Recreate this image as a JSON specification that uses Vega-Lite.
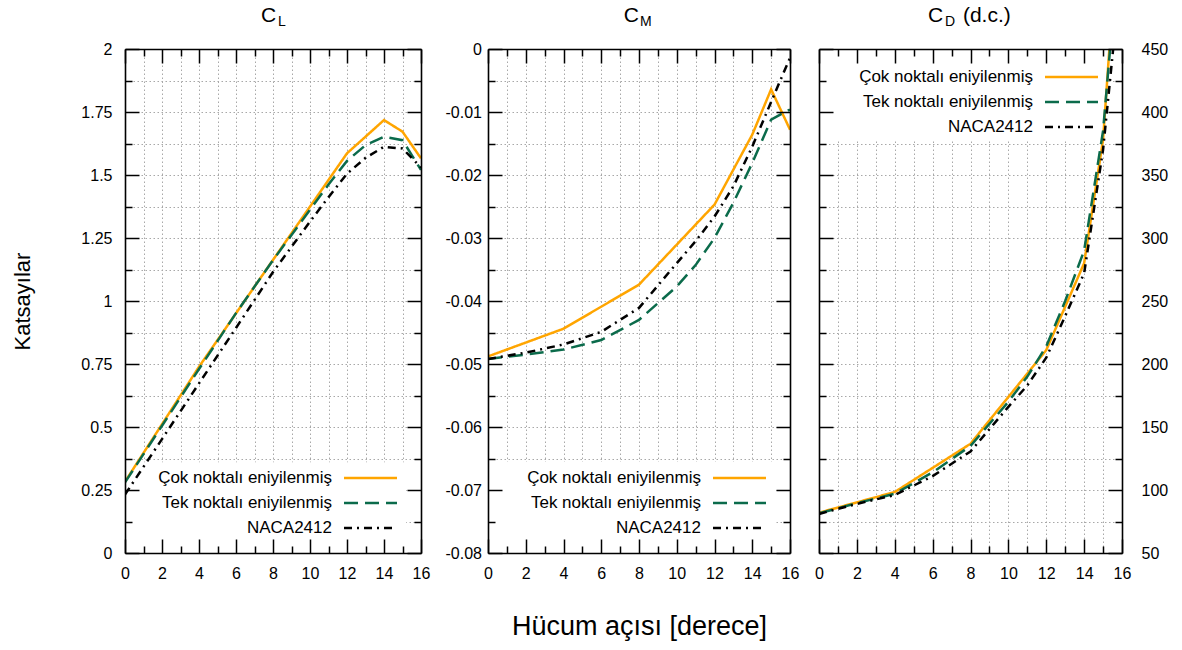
{
  "$schema": "https://vega.github.io/schema/vega-lite/v6.json",
  "background": "white",
  "padding": {"left": 11, "top": 4, "right": 5, "bottom": 5},
  "datasets": {
    "coef": [
      {"panel": "CL", "series": "Çok noktalı eniyilenmiş", "angle": 0, "value": 0.283},
      {"panel": "CL", "series": "Çok noktalı eniyilenmiş", "angle": 4, "value": 0.739},
      {"panel": "CL", "series": "Çok noktalı eniyilenmiş", "angle": 8, "value": 1.163},
      {"panel": "CL", "series": "Çok noktalı eniyilenmiş", "angle": 12, "value": 1.586},
      {"panel": "CL", "series": "Çok noktalı eniyilenmiş", "angle": 14, "value": 1.718},
      {"panel": "CL", "series": "Çok noktalı eniyilenmiş", "angle": 15, "value": 1.672},
      {"panel": "CL", "series": "Çok noktalı eniyilenmiş", "angle": 16, "value": 1.566},
      {"panel": "CL", "series": "Tek noktalı eniyilenmiş", "angle": 0, "value": 0.28},
      {"panel": "CL", "series": "Tek noktalı eniyilenmiş", "angle": 2, "value": 0.505},
      {"panel": "CL", "series": "Tek noktalı eniyilenmiş", "angle": 4, "value": 0.73},
      {"panel": "CL", "series": "Tek noktalı eniyilenmiş", "angle": 6, "value": 0.952},
      {"panel": "CL", "series": "Tek noktalı eniyilenmiş", "angle": 8, "value": 1.162},
      {"panel": "CL", "series": "Tek noktalı eniyilenmiş", "angle": 10, "value": 1.362},
      {"panel": "CL", "series": "Tek noktalı eniyilenmiş", "angle": 11, "value": 1.462},
      {"panel": "CL", "series": "Tek noktalı eniyilenmiş", "angle": 12, "value": 1.556},
      {"panel": "CL", "series": "Tek noktalı eniyilenmiş", "angle": 13, "value": 1.618},
      {"panel": "CL", "series": "Tek noktalı eniyilenmiş", "angle": 14, "value": 1.652},
      {"panel": "CL", "series": "Tek noktalı eniyilenmiş", "angle": 15, "value": 1.638},
      {"panel": "CL", "series": "Tek noktalı eniyilenmiş", "angle": 16, "value": 1.52},
      {"panel": "CL", "series": "NACA2412", "angle": 0, "value": 0.232},
      {"panel": "CL", "series": "NACA2412", "angle": 2, "value": 0.452},
      {"panel": "CL", "series": "NACA2412", "angle": 4, "value": 0.673},
      {"panel": "CL", "series": "NACA2412", "angle": 6, "value": 0.893},
      {"panel": "CL", "series": "NACA2412", "angle": 8, "value": 1.115},
      {"panel": "CL", "series": "NACA2412", "angle": 10, "value": 1.315},
      {"panel": "CL", "series": "NACA2412", "angle": 11, "value": 1.412},
      {"panel": "CL", "series": "NACA2412", "angle": 12, "value": 1.505},
      {"panel": "CL", "series": "NACA2412", "angle": 13, "value": 1.568},
      {"panel": "CL", "series": "NACA2412", "angle": 14, "value": 1.612},
      {"panel": "CL", "series": "NACA2412", "angle": 15, "value": 1.605},
      {"panel": "CL", "series": "NACA2412", "angle": 16, "value": 1.53},
      {"panel": "CM", "series": "Çok noktalı eniyilenmiş", "angle": 0, "value": -0.0488},
      {"panel": "CM", "series": "Çok noktalı eniyilenmiş", "angle": 4, "value": -0.0444},
      {"panel": "CM", "series": "Çok noktalı eniyilenmiş", "angle": 8, "value": -0.0374},
      {"panel": "CM", "series": "Çok noktalı eniyilenmiş", "angle": 12, "value": -0.0247},
      {"panel": "CM", "series": "Çok noktalı eniyilenmiş", "angle": 14, "value": -0.0136},
      {"panel": "CM", "series": "Çok noktalı eniyilenmiş", "angle": 15, "value": -0.0064},
      {"panel": "CM", "series": "Çok noktalı eniyilenmiş", "angle": 16, "value": -0.0128},
      {"panel": "CM", "series": "Tek noktalı eniyilenmiş", "angle": 0, "value": -0.0492},
      {"panel": "CM", "series": "Tek noktalı eniyilenmiş", "angle": 2, "value": -0.0485},
      {"panel": "CM", "series": "Tek noktalı eniyilenmiş", "angle": 4, "value": -0.0477},
      {"panel": "CM", "series": "Tek noktalı eniyilenmiş", "angle": 6, "value": -0.0462},
      {"panel": "CM", "series": "Tek noktalı eniyilenmiş", "angle": 8, "value": -0.043},
      {"panel": "CM", "series": "Tek noktalı eniyilenmiş", "angle": 10, "value": -0.0377},
      {"panel": "CM", "series": "Tek noktalı eniyilenmiş", "angle": 11, "value": -0.0343},
      {"panel": "CM", "series": "Tek noktalı eniyilenmiş", "angle": 12, "value": -0.03},
      {"panel": "CM", "series": "Tek noktalı eniyilenmiş", "angle": 13, "value": -0.0244},
      {"panel": "CM", "series": "Tek noktalı eniyilenmiş", "angle": 14, "value": -0.0181},
      {"panel": "CM", "series": "Tek noktalı eniyilenmiş", "angle": 15, "value": -0.0112},
      {"panel": "CM", "series": "Tek noktalı eniyilenmiş", "angle": 16, "value": -0.0096},
      {"panel": "CM", "series": "NACA2412", "angle": 0, "value": -0.0492},
      {"panel": "CM", "series": "NACA2412", "angle": 2, "value": -0.0482},
      {"panel": "CM", "series": "NACA2412", "angle": 4, "value": -0.0469},
      {"panel": "CM", "series": "NACA2412", "angle": 6, "value": -0.0449},
      {"panel": "CM", "series": "NACA2412", "angle": 8, "value": -0.0411},
      {"panel": "CM", "series": "NACA2412", "angle": 10, "value": -0.034},
      {"panel": "CM", "series": "NACA2412", "angle": 11, "value": -0.0305},
      {"panel": "CM", "series": "NACA2412", "angle": 12, "value": -0.0266},
      {"panel": "CM", "series": "NACA2412", "angle": 13, "value": -0.0218},
      {"panel": "CM", "series": "NACA2412", "angle": 14, "value": -0.0155},
      {"panel": "CM", "series": "NACA2412", "angle": 15, "value": -0.0084},
      {"panel": "CM", "series": "NACA2412", "angle": 16, "value": -0.0014},
      {"panel": "CD", "series": "Çok noktalı eniyilenmiş", "angle": 0, "value": 82},
      {"panel": "CD", "series": "Çok noktalı eniyilenmiş", "angle": 4, "value": 98.4},
      {"panel": "CD", "series": "Çok noktalı eniyilenmiş", "angle": 8, "value": 136.7},
      {"panel": "CD", "series": "Çok noktalı eniyilenmiş", "angle": 12, "value": 211},
      {"panel": "CD", "series": "Çok noktalı eniyilenmiş", "angle": 14, "value": 280},
      {"panel": "CD", "series": "Çok noktalı eniyilenmiş", "angle": 15, "value": 378},
      {"panel": "CD", "series": "Çok noktalı eniyilenmiş", "angle": 16, "value": 594},
      {"panel": "CD", "series": "Tek noktalı eniyilenmiş", "angle": 0, "value": 81.5},
      {"panel": "CD", "series": "Tek noktalı eniyilenmiş", "angle": 2, "value": 89.5},
      {"panel": "CD", "series": "Tek noktalı eniyilenmiş", "angle": 4, "value": 97},
      {"panel": "CD", "series": "Tek noktalı eniyilenmiş", "angle": 6, "value": 114},
      {"panel": "CD", "series": "Tek noktalı eniyilenmiş", "angle": 8, "value": 135},
      {"panel": "CD", "series": "Tek noktalı eniyilenmiş", "angle": 10, "value": 170},
      {"panel": "CD", "series": "Tek noktalı eniyilenmiş", "angle": 11, "value": 190},
      {"panel": "CD", "series": "Tek noktalı eniyilenmiş", "angle": 12, "value": 214},
      {"panel": "CD", "series": "Tek noktalı eniyilenmiş", "angle": 13, "value": 250},
      {"panel": "CD", "series": "Tek noktalı eniyilenmiş", "angle": 14, "value": 290},
      {"panel": "CD", "series": "Tek noktalı eniyilenmiş", "angle": 15, "value": 385},
      {"panel": "CD", "series": "Tek noktalı eniyilenmiş", "angle": 16, "value": 560},
      {"panel": "CD", "series": "NACA2412", "angle": 0, "value": 81},
      {"panel": "CD", "series": "NACA2412", "angle": 2, "value": 89},
      {"panel": "CD", "series": "NACA2412", "angle": 4, "value": 96},
      {"panel": "CD", "series": "NACA2412", "angle": 6, "value": 111},
      {"panel": "CD", "series": "NACA2412", "angle": 8, "value": 130.6},
      {"panel": "CD", "series": "NACA2412", "angle": 10, "value": 166},
      {"panel": "CD", "series": "NACA2412", "angle": 11, "value": 183},
      {"panel": "CD", "series": "NACA2412", "angle": 12, "value": 205},
      {"panel": "CD", "series": "NACA2412", "angle": 13, "value": 238},
      {"panel": "CD", "series": "NACA2412", "angle": 14, "value": 272},
      {"panel": "CD", "series": "NACA2412", "angle": 15, "value": 370},
      {"panel": "CD", "series": "NACA2412", "angle": 16, "value": 520}
    ]
  },
  "spacing": 15,
  "hconcat": [
    {
      "width": 296,
      "height": 504,
      "layer": [
        {
          "data": {"values": [{}]},
          "mark": {"type": "rect", "fill": "white"},
          "encoding": {
            "x": {"datum": 0, "type": "quantitative", "scale": {"domain": [0, 16], "nice": false, "zero": false},
              "axis": {"orient": "bottom", "values": [0,1,2,3,4,5,6,7,8,9,10,11,12,13,14,15,16], "labels": false, "ticks": false, "domain": false, "grid": true, "title": null, "zindex": 0}},
            "x2": {"datum": 15.2},
            "y": {"datum": 0, "type": "quantitative", "scale": {"domain": [0, 2], "nice": false, "zero": false},
              "axis": {"orient": "left", "values": [0,0.125,0.25,0.375,0.5,0.625,0.75,0.875,1,1.125,1.25,1.375,1.5,1.625,1.75,1.875,2], "labels": false, "ticks": false, "domain": false, "grid": true, "title": null, "zindex": 0}},
            "y2": {"datum": 0.36}
          }
        },
        {
          "data": {"name": "coef"},
          "transform": [{"filter": "datum.panel === 'CL'"}],
          "mark": {"type": "line", "clip": true, "strokeWidth": 2.5},
          "encoding": {
            "x": {"field": "angle", "type": "quantitative", "scale": {"domain": [0, 16], "nice": false, "zero": false},
              "axis": {"orient": "bottom", "values": [0,1,2,3,4,5,6,7,8,9,10,11,12,13,14,15,16], "grid": false, "zindex": 1, "title": null, "labelPadding": 26,
                "labelExpr": "datum.value % 2 === 0 ? datum.label : ''",
                "tickSize": {"condition": {"test": "datum.value % 2 === 0", "value": -14}, "value": -7}}},
            "y": {"field": "value", "type": "quantitative", "scale": {"domain": [0, 2], "nice": false, "zero": false},
              "axis": {"orient": "left", "values": [0,0.125,0.25,0.375,0.5,0.625,0.75,0.875,1,1.125,1.25,1.375,1.5,1.625,1.75,1.875,2], "grid": false, "zindex": 1,
                "title": "Katsayılar", "titleFontSize": 22, "titlePadding": 46, "labelPadding": 27,
                "labelExpr": "round(datum.value*8) % 2 === 0 ? '' + datum.value : ''",
                "tickSize": {"condition": {"test": "round(datum.value*8) % 2 === 0", "value": -14}, "value": -7}}},
            "color": {"field": "series", "type": "nominal",
              "scale": {"domain": ["Çok noktalı eniyilenmiş", "Tek noktalı eniyilenmiş", "NACA2412"], "range": ["#ffa500", "#0b6b4b", "#000000"]},
              "legend": {"orient": "none", "legendX": 205, "legendY": 418.5, "title": null}},
            "strokeDash": {"field": "series", "type": "nominal",
              "scale": {"domain": ["Çok noktalı eniyilenmiş", "Tek noktalı eniyilenmiş", "NACA2412"], "range": [[1, 0], [14, 7], [8, 5, 2, 5]]},
              "legend": {"orient": "none", "legendX": 205, "legendY": 418.5, "title": null}}
          }
        },
        {
          "data": {"values": [{}]},
          "mark": {"type": "text", "fontSize": 21, "align": "left", "baseline": "alphabetic"},
          "encoding": {
            "x": {"datum": 7.35, "type": "quantitative", "scale": {"domain": [0, 16], "nice": false, "zero": false},
              "axis": {"orient": "top", "values": [0,1,2,3,4,5,6,7,8,9,10,11,12,13,14,15,16], "labels": false, "grid": false, "title": null, "zindex": 1,
                "tickSize": {"condition": {"test": "datum.value % 2 === 0", "value": -14}, "value": -7}}},
            "y": {"datum": 2.107, "type": "quantitative", "scale": {"domain": [0, 2], "nice": false, "zero": false},
              "axis": {"orient": "right", "values": [0,0.125,0.25,0.375,0.5,0.625,0.75,0.875,1,1.125,1.25,1.375,1.5,1.625,1.75,1.875,2], "labels": false, "grid": false, "title": null, "zindex": 1,
                "tickSize": {"condition": {"test": "round(datum.value*8) % 2 === 0", "value": -14}, "value": -7}}},
            "text": {"value": "C"}
          }
        },
        {
          "data": {"values": [{}]},
          "mark": {"type": "text", "fontSize": 14, "align": "left", "baseline": "alphabetic"},
          "encoding": {
            "x": {"datum": 8.27, "type": "quantitative", "scale": {"domain": [0, 16], "nice": false, "zero": false}, "axis": null},
            "y": {"datum": 2.091, "type": "quantitative", "scale": {"domain": [0, 2], "nice": false, "zero": false}, "axis": null},
            "text": {"value": "L"}
          }
        }
      ],
      "resolve": {"axis": {"x": "independent", "y": "independent"}}
    },
    {
      "width": 302,
      "height": 504,
      "layer": [
        {
          "data": {"values": [{}]},
          "mark": {"type": "rect", "fill": "white"},
          "encoding": {
            "x": {"datum": 0, "type": "quantitative", "scale": {"domain": [0, 16], "nice": false, "zero": false},
              "axis": {"orient": "bottom", "values": [0,1,2,3,4,5,6,7,8,9,10,11,12,13,14,15,16], "labels": false, "ticks": false, "domain": false, "grid": true, "title": null, "zindex": 0}},
            "x2": {"datum": 15.2},
            "y": {"datum": -0.08, "type": "quantitative", "scale": {"domain": [-0.08, 0], "nice": false, "zero": false},
              "axis": {"orient": "left", "values": [-0.08,-0.075,-0.07,-0.065,-0.06,-0.055,-0.05,-0.045,-0.04,-0.035,-0.03,-0.025,-0.02,-0.015,-0.01,-0.005,0], "labels": false, "ticks": false, "domain": false, "grid": true, "title": null, "zindex": 0}},
            "y2": {"datum": -0.0655}
          }
        },
        {
          "data": {"name": "coef"},
          "transform": [{"filter": "datum.panel === 'CM'"}],
          "mark": {"type": "line", "clip": true, "strokeWidth": 2.5},
          "encoding": {
            "x": {"field": "angle", "type": "quantitative", "scale": {"domain": [0, 16], "nice": false, "zero": false},
              "axis": {"orient": "bottom", "values": [0,1,2,3,4,5,6,7,8,9,10,11,12,13,14,15,16], "grid": false, "zindex": 1, "labelPadding": 26,
                "title": "Hücum açısı [derece]", "titleFontSize": 27, "titlePadding": 25,
                "labelExpr": "datum.value % 2 === 0 ? datum.label : ''",
                "tickSize": {"condition": {"test": "datum.value % 2 === 0", "value": -14}, "value": -7}}},
            "y": {"field": "value", "type": "quantitative", "scale": {"domain": [-0.08, 0], "nice": false, "zero": false},
              "axis": {"orient": "left", "values": [-0.08,-0.075,-0.07,-0.065,-0.06,-0.055,-0.05,-0.045,-0.04,-0.035,-0.03,-0.025,-0.02,-0.015,-0.01,-0.005,0], "grid": false, "zindex": 1,
                "title": null, "labelPadding": 20.5,
                "labelExpr": "round(datum.value*1000) % 10 === 0 ? '' + datum.value : ''",
                "tickSize": {"condition": {"test": "round(datum.value*1000) % 10 === 0", "value": -14}, "value": -7}}},
            "color": {"field": "series", "type": "nominal",
              "scale": {"domain": ["Çok noktalı eniyilenmiş", "Tek noktalı eniyilenmiş", "NACA2412"], "range": ["#ffa500", "#0b6b4b", "#000000"]},
              "legend": {"orient": "none", "legendX": 211, "legendY": 418.5, "title": null}},
            "strokeDash": {"field": "series", "type": "nominal",
              "scale": {"domain": ["Çok noktalı eniyilenmiş", "Tek noktalı eniyilenmiş", "NACA2412"], "range": [[1, 0], [14, 7], [8, 5, 2, 5]]},
              "legend": {"orient": "none", "legendX": 211, "legendY": 418.5, "title": null}}
          }
        },
        {
          "data": {"values": [{}]},
          "mark": {"type": "text", "fontSize": 21, "align": "left", "baseline": "alphabetic"},
          "encoding": {
            "x": {"datum": 7.19, "type": "quantitative", "scale": {"domain": [0, 16], "nice": false, "zero": false},
              "axis": {"orient": "top", "values": [0,1,2,3,4,5,6,7,8,9,10,11,12,13,14,15,16], "labels": false, "grid": false, "title": null, "zindex": 1,
                "tickSize": {"condition": {"test": "datum.value % 2 === 0", "value": -14}, "value": -7}}},
            "y": {"datum": 0.00433, "type": "quantitative", "scale": {"domain": [-0.08, 0], "nice": false, "zero": false},
              "axis": {"orient": "right", "values": [-0.08,-0.075,-0.07,-0.065,-0.06,-0.055,-0.05,-0.045,-0.04,-0.035,-0.03,-0.025,-0.02,-0.015,-0.01,-0.005,0], "labels": false, "grid": false, "title": null, "zindex": 1,
                "tickSize": {"condition": {"test": "round(datum.value*1000) % 10 === 0", "value": -14}, "value": -7}}},
            "text": {"value": "C"}
          }
        },
        {
          "data": {"values": [{}]},
          "mark": {"type": "text", "fontSize": 14, "align": "left", "baseline": "alphabetic"},
          "encoding": {
            "x": {"datum": 8.05, "type": "quantitative", "scale": {"domain": [0, 16], "nice": false, "zero": false}, "axis": null},
            "y": {"datum": 0.0037, "type": "quantitative", "scale": {"domain": [-0.08, 0], "nice": false, "zero": false}, "axis": null},
            "text": {"value": "M"}
          }
        }
      ],
      "resolve": {"axis": {"x": "independent", "y": "independent"}}
    },
    {
      "width": 303,
      "height": 504,
      "layer": [
        {
          "data": {"values": [{}]},
          "mark": {"type": "rect", "fill": "white"},
          "encoding": {
            "x": {"datum": 0, "type": "quantitative", "scale": {"domain": [0, 16], "nice": false, "zero": false},
              "axis": {"orient": "bottom", "values": [0,1,2,3,4,5,6,7,8,9,10,11,12,13,14,15,16], "labels": false, "ticks": false, "domain": false, "grid": true, "title": null, "zindex": 0}},
            "x2": {"datum": 15.2},
            "y": {"datum": 378, "type": "quantitative", "scale": {"domain": [50, 450], "nice": false, "zero": false},
              "axis": {"orient": "right", "values": [50,75,100,125,150,175,200,225,250,275,300,325,350,375,400,425,450], "labels": false, "ticks": false, "domain": false, "grid": true, "title": null, "zindex": 0}},
            "y2": {"datum": 450}
          }
        },
        {
          "data": {"name": "coef"},
          "transform": [{"filter": "datum.panel === 'CD'"}],
          "mark": {"type": "line", "clip": true, "strokeWidth": 2.5},
          "encoding": {
            "x": {"field": "angle", "type": "quantitative", "scale": {"domain": [0, 16], "nice": false, "zero": false},
              "axis": {"orient": "bottom", "values": [0,1,2,3,4,5,6,7,8,9,10,11,12,13,14,15,16], "grid": false, "zindex": 1, "title": null, "labelPadding": 26,
                "labelExpr": "datum.value % 2 === 0 ? datum.label : ''",
                "tickSize": {"condition": {"test": "datum.value % 2 === 0", "value": -14}, "value": -7}}},
            "y": {"field": "value", "type": "quantitative", "scale": {"domain": [50, 450], "nice": false, "zero": false},
              "axis": {"orient": "right", "values": [50,75,100,125,150,175,200,225,250,275,300,325,350,375,400,425,450], "grid": false, "zindex": 1,
                "title": null, "labelPadding": 33,
                "labelExpr": "datum.value % 50 === 0 ? datum.label : ''",
                "tickSize": {"condition": {"test": "datum.value % 50 === 0", "value": -14}, "value": -7}}},
            "color": {"field": "series", "type": "nominal",
              "scale": {"domain": ["Çok noktalı eniyilenmiş", "Tek noktalı eniyilenmiş", "NACA2412"], "range": ["#ffa500", "#0b6b4b", "#000000"]},
              "legend": {"orient": "none", "legendX": 212, "legendY": 17.5, "title": null}},
            "strokeDash": {"field": "series", "type": "nominal",
              "scale": {"domain": ["Çok noktalı eniyilenmiş", "Tek noktalı eniyilenmiş", "NACA2412"], "range": [[1, 0], [14, 7], [8, 5, 2, 5]]},
              "legend": {"orient": "none", "legendX": 212, "legendY": 17.5, "title": null}}
          }
        },
        {
          "data": {"values": [{}]},
          "mark": {"type": "text", "fontSize": 21, "align": "left", "baseline": "alphabetic"},
          "encoding": {
            "x": {"datum": 5.755, "type": "quantitative", "scale": {"domain": [0, 16], "nice": false, "zero": false},
              "axis": {"orient": "top", "values": [0,1,2,3,4,5,6,7,8,9,10,11,12,13,14,15,16], "labels": false, "grid": false, "title": null, "zindex": 1,
                "tickSize": {"condition": {"test": "datum.value % 2 === 0", "value": -14}, "value": -7}}},
            "y": {"datum": 471.7, "type": "quantitative", "scale": {"domain": [50, 450], "nice": false, "zero": false},
              "axis": {"orient": "left", "values": [50,75,100,125,150,175,200,225,250,275,300,325,350,375,400,425,450], "labels": false, "grid": false, "title": null, "zindex": 1,
                "tickSize": {"condition": {"test": "datum.value % 50 === 0", "value": -14}, "value": -7}}},
            "text": {"value": "C"}
          }
        },
        {
          "data": {"values": [{}]},
          "mark": {"type": "text", "fontSize": 14, "align": "left", "baseline": "alphabetic"},
          "encoding": {
            "x": {"datum": 6.65, "type": "quantitative", "scale": {"domain": [0, 16], "nice": false, "zero": false}, "axis": null},
            "y": {"datum": 468.5, "type": "quantitative", "scale": {"domain": [50, 450], "nice": false, "zero": false}, "axis": null},
            "text": {"value": "D"}
          }
        },
        {
          "data": {"values": [{}]},
          "mark": {"type": "text", "fontSize": 21, "align": "left", "baseline": "alphabetic"},
          "encoding": {
            "x": {"datum": 7.6, "type": "quantitative", "scale": {"domain": [0, 16], "nice": false, "zero": false}, "axis": null},
            "y": {"datum": 471.7, "type": "quantitative", "scale": {"domain": [50, 450], "nice": false, "zero": false}, "axis": null},
            "text": {"value": "(d.c.)"}
          }
        }
      ],
      "resolve": {"axis": {"x": "independent", "y": "independent"}}
    }
  ],
  "resolve": {
    "scale": {"color": "independent", "strokeDash": "independent"},
    "legend": {"color": "independent", "strokeDash": "independent"}
  },
  "config": {
    "font": "Liberation Sans",
    "view": {"stroke": null},
    "text": {"color": "black", "font": "Liberation Sans"},
    "axis": {
      "labelFont": "Liberation Sans", "labelFontSize": 16, "labelColor": "black",
      "labelOverlap": false, "labelFlush": false, "labelBound": false,
      "titleFont": "Liberation Sans", "titleFontWeight": "normal", "titleColor": "black",
      "domainColor": "black", "domainWidth": 1.6, "tickColor": "black", "tickWidth": 1.5,
      "gridColor": "#a8a8a8", "gridDash": [1.5, 2.5], "gridWidth": 1, "gridOpacity": 1
    },
    "legend": {
      "symbolType": "M-3,0H3", "symbolSize": 312, "symbolStrokeWidth": 2.5,
      "labelFont": "Liberation Sans", "labelFontSize": 17, "labelColor": "black", "labelLimit": 0,
      "labelAlign": "right", "labelOffset": -49, "symbolOffset": 30, "rowPadding": 6, "padding": 0
    }
  }
}
